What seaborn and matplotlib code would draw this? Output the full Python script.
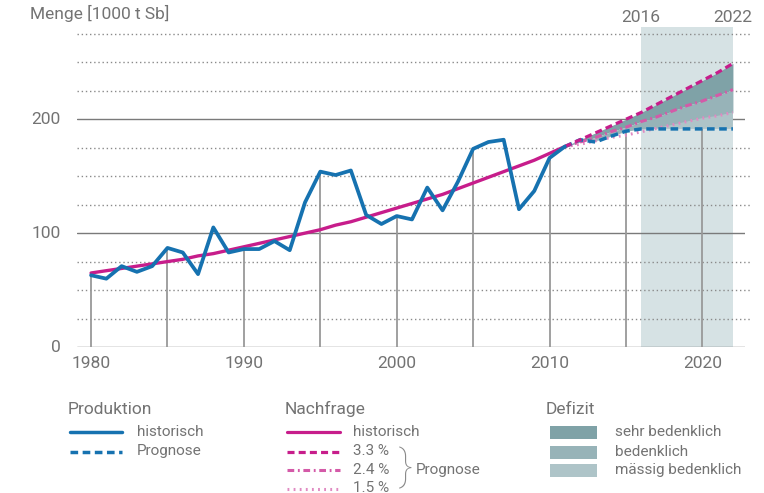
import numpy as np
import pandas as pd
import matplotlib
matplotlib.use("Agg")
import matplotlib.pyplot as plt
import seaborn as sns

# ── Data ──────────────────────────────────────────────────────
years_hist = list(range(1980, 2012))
prod_hist = [63, 60, 71, 66, 71, 87, 83, 64, 105, 83,
             86, 86, 93, 85, 127, 154, 151, 155, 116, 108,
             115, 112, 140, 120, 145, 174, 180, 182, 121, 137,
             166, 176]
demand_hist = [65, 67, 69, 71, 73, 75, 77, 80, 82, 85,
               88, 91, 94, 97, 100, 103, 107, 110, 114, 118,
               122, 126, 130, 134, 139, 144, 149, 154, 159, 164,
               170, 176]

years_fc = list(range(2011, 2023))
prod_fc = [176, 182, 180, 185, 189.5, 191.5, 191.5, 191.5, 191.5, 191.5, 191.5, 191.5]
demand_33 = [176, 182, 188, 194, 200, 206, 213, 220, 227, 234, 241, 249]
demand_24 = [176, 180, 184, 189, 193, 198, 202, 207, 212, 216, 221, 226]
demand_15 = [176, 178, 181, 184, 186, 189, 192, 195, 198, 201, 203, 206]

drop_years = [1980, 1985, 1990, 1995, 2000, 2005, 2010, 2015, 2020]
x_ticks = [1980, 1990, 2000, 2010, 2020]
y_ticks = [0, 100, 200]
dotted_levels = [25, 50, 75, 125, 150, 175, 225, 250, 275]
shade_span = (2016, 2022)

# ── Style ─────────────────────────────────────────────────────
sns.set_style("white")
plt.rcParams['font.family'] = ['Roboto', 'DejaVu Sans']

BLUE = "#1672b0"
MAGENTA = "#c71d8b"
PINK_MID = "#d45aa8"
PINK_LIGHT = "#e08ac2"
SHADE = "#d6e2e4"
DEF_DARK = "#7fa2a7"
DEF_MID = "#97b3b8"
DEF_LIGHT = "#aec4c8"
GRID = "#7a7a7a"
TXT = "#737373"

W, H = 764, 493
fig = plt.figure(figsize=(W / 100, H / 100), dpi=100)
ax = fig.add_axes([77 / W, (H - 347) / H, (745 - 77) / W, (347 - 27) / H])
ax.set_xlim(1979.08, 2022.79)
ax.set_ylim(0, 281)
ax.axis("off")

# background shading for the forecast window
ax.axvspan(*shade_span, color=SHADE, lw=0, zorder=0)

# grid lines
for lv in dotted_levels:
    ax.plot([1979.08, 2023.1], [lv, lv], color="#8a8a8a", lw=1.0,
            ls=(0, (1, 2)), zorder=1, clip_on=False)
for lv in y_ticks:
    ax.plot([1979.08, 2022.79], [lv, lv], color=GRID, lw=1.0, zorder=1)

# drop lines from production curve
prod_all = pd.Series(prod_hist + prod_fc[1:], index=years_hist + years_fc[1:])
for yr in drop_years:
    ax.plot([yr, yr], [0, prod_all[yr]], color="#999999", lw=1.3, zorder=2)

# deficit areas
xf = np.array(years_fc)
p = np.array(prod_fc)
d33, d24, d15 = np.array(demand_33), np.array(demand_24), np.array(demand_15)
ax.fill_between(xf, d24, d33, color=DEF_DARK, lw=0, zorder=3)
ax.fill_between(xf, np.maximum(d15, p), d24, color=DEF_MID, lw=0, zorder=3)
ax.fill_between(xf, p, d15, where=d15 >= p, interpolate=True, color=DEF_LIGHT, lw=0, zorder=3)

# lines
hist = pd.DataFrame({"year": years_hist, "prod": prod_hist, "demand": demand_hist})
fc = pd.DataFrame({"year": years_fc, "prod": prod_fc, "d33": demand_33,
                   "d24": demand_24, "d15": demand_15})

sns.lineplot(data=fc, x="year", y="d15", ax=ax, color=PINK_LIGHT, lw=2.2, zorder=4)
ax.lines[-1].set_linestyle((0, (0.6, 1.4)))
sns.lineplot(data=fc, x="year", y="d24", ax=ax, color=PINK_MID, lw=2.2, zorder=4)
ax.lines[-1].set_linestyle((0, (2.2, 1.2, 0.6, 1.2)))
sns.lineplot(data=fc, x="year", y="prod", ax=ax, color=BLUE, lw=2.5, zorder=5)
ax.lines[-1].set_linestyle((0, (2.2, 1.3)))
sns.lineplot(data=fc, x="year", y="d33", ax=ax, color=MAGENTA, lw=2.3, zorder=5)
ax.lines[-1].set_linestyle((0, (2.2, 1.3)))
sns.lineplot(data=hist, x="year", y="demand", ax=ax, color=MAGENTA, lw=2.4, zorder=6)
sns.lineplot(data=hist, x="year", y="prod", ax=ax, color=BLUE, lw=2.7, zorder=6)

# axis labels (as text, axes are off)
for t in x_ticks:
    ax.text(t, -8, str(t), ha="center", va="top", fontsize=12.5, color=TXT)
for t in y_ticks:
    ax.text(1978.0, t, str(t), ha="right", va="center", fontsize=12.5, color=TXT)
for t in shade_span:
    ax.text(t, 283, str(t), ha="center", va="bottom", fontsize=12.5, color=TXT,
            clip_on=False)

fig.text(30 / W, 1 - 13 / H, "Menge [1000 t Sb]", ha="left", va="center",
         fontsize=12.5, color=TXT)

# ── Legend (hand-built) ───────────────────────────────────────
def fx(px):
    return px / W

def fy(py):
    return 1 - py / H

def leg_line(x0, x1, y, color, ls, lw=2.5):
    fig.add_artist(plt.Line2D([fx(x0), fx(x1)], [fy(y), fy(y)], color=color,
                              lw=lw, ls=ls, transform=fig.transFigure))

def leg_text(x, y, s, size=11):
    fig.text(fx(x), fy(y), s, ha="left", va="center", fontsize=size, color=TXT)

# Produktion
leg_text(68, 409, "Produktion", 12.5)
leg_line(70, 122, 432, BLUE, "-")
leg_line(70, 122, 452, BLUE, (0, (2.2, 1.3)))
leg_text(137, 432, "historisch")
leg_text(137, 451, "Prognose")

# Nachfrage
leg_text(285, 409, "Nachfrage", 12.5)
leg_line(287, 340, 432, MAGENTA, "-", 2.3)
leg_line(287, 340, 452, MAGENTA, (0, (2.2, 1.3)), 2.3)
leg_line(287, 340, 470, PINK_MID, (0, (2.2, 1.2, 0.6, 1.2)), 2.2)
leg_line(287, 340, 489, PINK_LIGHT, (0, (0.6, 1.4)), 2.2)
leg_text(353, 432, "historisch")
leg_text(353, 451, "3.3 %")
leg_text(353, 470, "2.4 %")
leg_text(353, 488, "1.5 %")
fig.text(fx(399), fy(468), "}", ha="left", va="center", fontsize=31,
         color="#8a8a8a", fontweight="light")
leg_text(416, 470, "Prognose")

# Defizit
leg_text(546, 409, "Defizit", 12.5)
for yy, col, lab in [(432, DEF_DARK, "sehr bedenklich"),
                     (452, DEF_MID, "bedenklich"),
                     (470, DEF_LIGHT, "mässig bedenklich")]:
    fig.add_artist(plt.Rectangle((fx(550), fy(yy + 6.5)), (597 - 550) / W, 13 / H,
                                 color=col, lw=0, transform=fig.transFigure))
    leg_text(615, yy, lab)

fig.savefig("out.png", dpi=100)
